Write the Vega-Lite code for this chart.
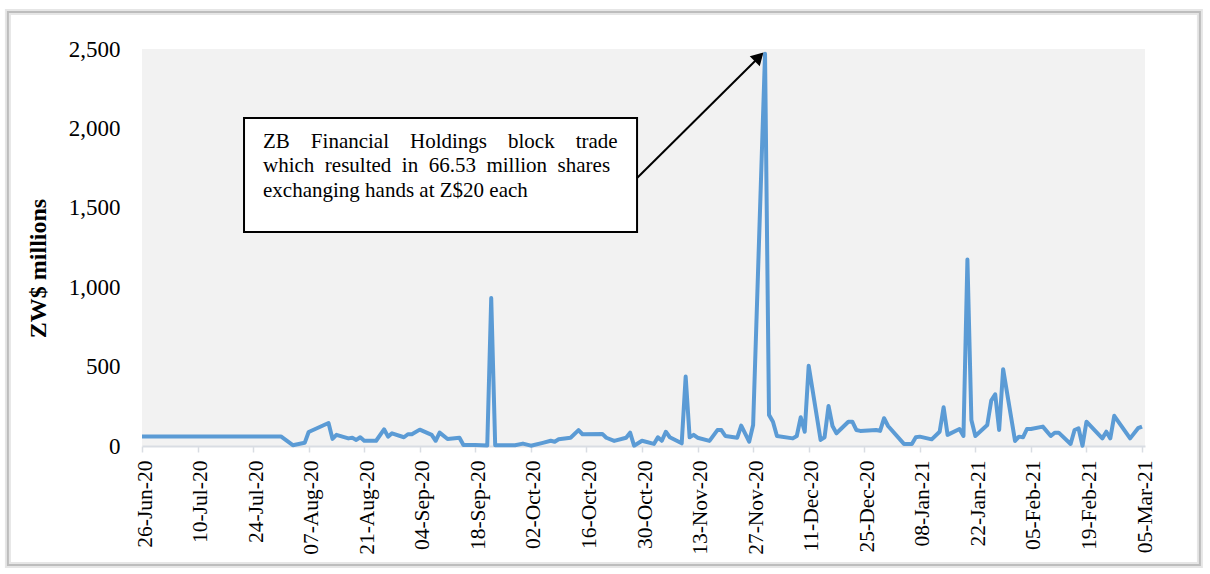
{
  "$schema": "https://vega.github.io/schema/vega-lite/v6.json",
  "width": 1003,
  "height": 397,
  "autosize": {"type": "none"},
  "padding": {"left": 142, "top": 49, "right": 65, "bottom": 128},
  "background": "white",
  "config": {
    "view": {"fill": "#F2F2F2", "stroke": null},
    "font": "Liberation Serif",
    "mark": {"font": "Liberation Serif"},
    "text": {"font": "Liberation Serif"}
  },
  "data": {
    "values": [
      {"date": "2020-06-26", "value": 60},
      {"date": "2020-07-31", "value": 60},
      {"date": "2020-08-03", "value": 5},
      {"date": "2020-08-06", "value": 20},
      {"date": "2020-08-07", "value": 88},
      {"date": "2020-08-12", "value": 145},
      {"date": "2020-08-13", "value": 45},
      {"date": "2020-08-14", "value": 70},
      {"date": "2020-08-17", "value": 48},
      {"date": "2020-08-18", "value": 52},
      {"date": "2020-08-19", "value": 38},
      {"date": "2020-08-20", "value": 55},
      {"date": "2020-08-21", "value": 33},
      {"date": "2020-08-24", "value": 33},
      {"date": "2020-08-26", "value": 105},
      {"date": "2020-08-27", "value": 59},
      {"date": "2020-08-28", "value": 80},
      {"date": "2020-08-31", "value": 55},
      {"date": "2020-09-01", "value": 74},
      {"date": "2020-09-02", "value": 74},
      {"date": "2020-09-04", "value": 103},
      {"date": "2020-09-07", "value": 70},
      {"date": "2020-09-08", "value": 33},
      {"date": "2020-09-09", "value": 84},
      {"date": "2020-09-11", "value": 44},
      {"date": "2020-09-14", "value": 52},
      {"date": "2020-09-15", "value": 6},
      {"date": "2020-09-18", "value": 6},
      {"date": "2020-09-21", "value": 3},
      {"date": "2020-09-22", "value": 932},
      {"date": "2020-09-23", "value": 5},
      {"date": "2020-09-25", "value": 5},
      {"date": "2020-09-28", "value": 5},
      {"date": "2020-09-30", "value": 15},
      {"date": "2020-10-02", "value": 2},
      {"date": "2020-10-05", "value": 20},
      {"date": "2020-10-07", "value": 33},
      {"date": "2020-10-08", "value": 27},
      {"date": "2020-10-09", "value": 42},
      {"date": "2020-10-12", "value": 52},
      {"date": "2020-10-14", "value": 100},
      {"date": "2020-10-15", "value": 74},
      {"date": "2020-10-20", "value": 76},
      {"date": "2020-10-21", "value": 52},
      {"date": "2020-10-23", "value": 32},
      {"date": "2020-10-26", "value": 52},
      {"date": "2020-10-27", "value": 84},
      {"date": "2020-10-28", "value": 2},
      {"date": "2020-10-30", "value": 33},
      {"date": "2020-11-02", "value": 13},
      {"date": "2020-11-03", "value": 55},
      {"date": "2020-11-04", "value": 33},
      {"date": "2020-11-05", "value": 90},
      {"date": "2020-11-06", "value": 55},
      {"date": "2020-11-09", "value": 17},
      {"date": "2020-11-10", "value": 437},
      {"date": "2020-11-11", "value": 55},
      {"date": "2020-11-12", "value": 70},
      {"date": "2020-11-13", "value": 52},
      {"date": "2020-11-16", "value": 32},
      {"date": "2020-11-18", "value": 100},
      {"date": "2020-11-19", "value": 100},
      {"date": "2020-11-20", "value": 63},
      {"date": "2020-11-23", "value": 52},
      {"date": "2020-11-24", "value": 128},
      {"date": "2020-11-26", "value": 27},
      {"date": "2020-11-27", "value": 132},
      {"date": "2020-11-30", "value": 2470},
      {"date": "2020-12-01", "value": 196},
      {"date": "2020-12-02", "value": 153},
      {"date": "2020-12-03", "value": 63},
      {"date": "2020-12-07", "value": 48},
      {"date": "2020-12-08", "value": 63},
      {"date": "2020-12-09", "value": 181},
      {"date": "2020-12-10", "value": 90},
      {"date": "2020-12-11", "value": 505},
      {"date": "2020-12-14", "value": 38},
      {"date": "2020-12-15", "value": 55},
      {"date": "2020-12-16", "value": 252},
      {"date": "2020-12-17", "value": 126},
      {"date": "2020-12-18", "value": 80},
      {"date": "2020-12-21", "value": 153},
      {"date": "2020-12-22", "value": 153},
      {"date": "2020-12-23", "value": 101},
      {"date": "2020-12-24", "value": 95},
      {"date": "2020-12-28", "value": 101},
      {"date": "2020-12-29", "value": 95},
      {"date": "2020-12-30", "value": 175},
      {"date": "2020-12-31", "value": 126},
      {"date": "2021-01-04", "value": 13},
      {"date": "2021-01-06", "value": 13},
      {"date": "2021-01-07", "value": 55},
      {"date": "2021-01-08", "value": 59},
      {"date": "2021-01-11", "value": 42},
      {"date": "2021-01-13", "value": 90},
      {"date": "2021-01-14", "value": 244},
      {"date": "2021-01-15", "value": 70},
      {"date": "2021-01-18", "value": 107},
      {"date": "2021-01-19", "value": 63},
      {"date": "2021-01-20", "value": 1174},
      {"date": "2021-01-21", "value": 164},
      {"date": "2021-01-22", "value": 63},
      {"date": "2021-01-25", "value": 132},
      {"date": "2021-01-26", "value": 286},
      {"date": "2021-01-27", "value": 326},
      {"date": "2021-01-28", "value": 101},
      {"date": "2021-01-29", "value": 484},
      {"date": "2021-02-01", "value": 32},
      {"date": "2021-02-02", "value": 59},
      {"date": "2021-02-03", "value": 55},
      {"date": "2021-02-04", "value": 107},
      {"date": "2021-02-05", "value": 107},
      {"date": "2021-02-08", "value": 122},
      {"date": "2021-02-10", "value": 63},
      {"date": "2021-02-11", "value": 84},
      {"date": "2021-02-12", "value": 84},
      {"date": "2021-02-15", "value": 13},
      {"date": "2021-02-16", "value": 101},
      {"date": "2021-02-17", "value": 112},
      {"date": "2021-02-18", "value": 2},
      {"date": "2021-02-19", "value": 153},
      {"date": "2021-02-23", "value": 48},
      {"date": "2021-02-24", "value": 90},
      {"date": "2021-02-25", "value": 48},
      {"date": "2021-02-26", "value": 190},
      {"date": "2021-03-02", "value": 48},
      {"date": "2021-03-04", "value": 112},
      {"date": "2021-03-05", "value": 122}
    ]
  },
  "layer": [
    {
      "data": {"values": [{}]},
      "mark": {"type": "rect", "fill": null, "stroke": "#E6E6E6", "strokeWidth": 6},
      "encoding": {
        "x": {"datum": {"year": 2020, "month": 5, "date": 23, "hours": 5, "utc": true}, "type": "temporal"},
        "x2": {"datum": {"year": 2021, "month": 3, "date": 19, "hours": 14, "utc": true}},
        "y": {"datum": 2733, "type": "quantitative"},
        "y2": {"datum": -749}
      }
    },
    {
      "data": {"values": [{}]},
      "mark": {"type": "rect", "fill": null, "stroke": "#BDBDBD", "strokeWidth": 2},
      "encoding": {
        "x": {"datum": {"year": 2020, "month": 5, "date": 23, "hours": 5, "utc": true}, "type": "temporal"},
        "x2": {"datum": {"year": 2021, "month": 3, "date": 19, "hours": 14, "utc": true}},
        "y": {"datum": 2733, "type": "quantitative"},
        "y2": {"datum": -749}
      }
    },
    {
      "mark": {"type": "line", "color": "#5B9BD5", "strokeWidth": 4, "strokeJoin": "round", "clip": false},
      "encoding": {
        "x": {
          "field": "date",
          "type": "temporal",
          "scale": {
            "type": "utc",
            "nice": false,
            "domain": [
              {"year": 2020, "month": 6, "date": 26, "utc": true},
              {"year": 2021, "month": 3, "date": 5, "hours": 18, "utc": true}
            ]
          },
          "axis": {
            "title": null,
            "values": [
              {"year": 2020, "month": 6, "date": 26, "utc": true},
              {"year": 2020, "month": 7, "date": 10, "utc": true},
              {"year": 2020, "month": 7, "date": 24, "utc": true},
              {"year": 2020, "month": 8, "date": 7, "utc": true},
              {"year": 2020, "month": 8, "date": 21, "utc": true},
              {"year": 2020, "month": 9, "date": 4, "utc": true},
              {"year": 2020, "month": 9, "date": 18, "utc": true},
              {"year": 2020, "month": 10, "date": 2, "utc": true},
              {"year": 2020, "month": 10, "date": 16, "utc": true},
              {"year": 2020, "month": 10, "date": 30, "utc": true},
              {"year": 2020, "month": 11, "date": 13, "utc": true},
              {"year": 2020, "month": 11, "date": 27, "utc": true},
              {"year": 2020, "month": 12, "date": 11, "utc": true},
              {"year": 2020, "month": 12, "date": 25, "utc": true},
              {"year": 2021, "month": 1, "date": 8, "utc": true},
              {"year": 2021, "month": 1, "date": 22, "utc": true},
              {"year": 2021, "month": 2, "date": 5, "utc": true},
              {"year": 2021, "month": 2, "date": 19, "utc": true},
              {"year": 2021, "month": 3, "date": 5, "utc": true}
            ],
            "format": "%d-%b-%y",
            "labelAngle": -90,
            "labelFont": "Liberation Serif",
            "labelFontSize": 21.5,
            "labelColor": "black",
            "labelOverlap": false,
            "labelFlush": false,
            "labelPadding": 8,
            "labelOffset": 3,
            "domainColor": "#D9DDE3",
            "domainWidth": 2,
            "tickColor": "#D9DDE3",
            "tickWidth": 1.5,
            "tickSize": 6,
            "grid": false
          }
        },
        "y": {
          "field": "value",
          "type": "quantitative",
          "scale": {"domain": [0, 2500], "nice": false},
          "axis": {
            "title": "ZW$ millions",
            "values": [0, 500, 1000, 1500, 2000, 2500],
            "format": ",d",
            "ticks": false,
            "domain": false,
            "grid": false,
            "labelFont": "Liberation Serif",
            "labelFontSize": 23,
            "labelColor": "black",
            "labelPadding": 22,
            "titleFont": "Liberation Serif",
            "titleFontSize": 24,
            "titleFontWeight": "bold",
            "titleColor": "black",
            "titlePadding": 18,
            "titleY": 219
          }
        }
      }
    },
    {
      "data": {"values": [{}]},
      "mark": {"type": "rect", "fill": "white", "stroke": "black", "strokeWidth": 2},
      "encoding": {
        "x": {"datum": {"year": 2020, "month": 7, "date": 21, "hours": 17, "utc": true}, "type": "temporal"},
        "x2": {"datum": {"year": 2020, "month": 10, "date": 28, "hours": 18, "utc": true}},
        "y": {"datum": 2065, "type": "quantitative"},
        "y2": {"datum": 1348}
      }
    },
    {
      "data": {"values": [{}]},
      "mark": {"type": "text", "align": "left", "baseline": "alphabetic", "font": "Liberation Serif", "fontSize": 21, "color": "black", "lineHeight": 24.5, "text": ["ZB\u2003Financial\u2003Holdings\u2003block\u2003trade", "which\u2002resulted\u2002in\u200266.53\u2002million\u2002shares", "exchanging hands at Z$20 each"]},
      "encoding": {
        "x": {"datum": {"year": 2020, "month": 7, "date": 26, "hours": 12, "utc": true}, "type": "temporal"},
        "y": {"datum": 1877, "type": "quantitative"}
      }
    },
    {
      "data": {"values": [{}]},
      "mark": {"type": "rule", "color": "black", "strokeWidth": 2},
      "encoding": {
        "x": {"datum": {"year": 2020, "month": 10, "date": 28, "hours": 18, "utc": true}, "type": "temporal"},
        "x2": {"datum": {"year": 2020, "month": 11, "date": 28, "hours": 0, "utc": true}},
        "y": {"datum": 1688, "type": "quantitative"},
        "y2": {"datum": 2437}
      }
    },
    {
      "data": {"values": [{}]},
      "mark": {"type": "point", "shape": "triangle-up", "filled": true, "color": "black", "opacity": 1, "size": 200, "angle": 45},
      "encoding": {
        "x": {"datum": {"year": 2020, "month": 11, "date": 28, "hours": 12, "utc": true}, "type": "temporal"},
        "y": {"datum": 2450, "type": "quantitative"}
      }
    }
  ]
}
